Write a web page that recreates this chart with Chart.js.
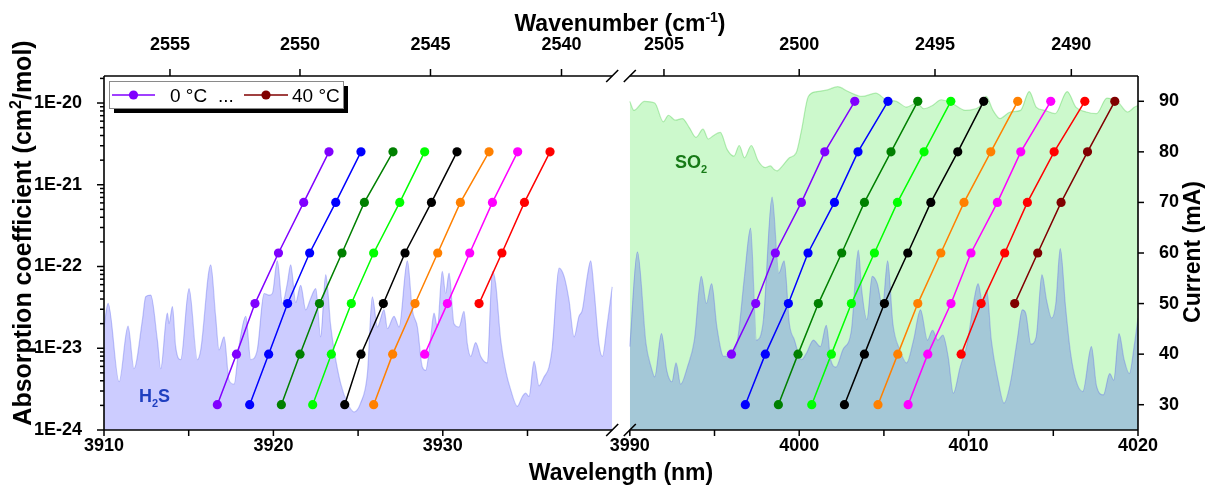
<!DOCTYPE html>
<html>
<head>
<meta charset="utf-8">
<script src="https://cdn.jsdelivr.net/npm/chart.js@4.4.1/dist/chart.umd.min.js"></script>
<style>
  html, body { margin: 0; padding: 0; background: #fff; }
  #wrap { width: 1209px; height: 490px; }
</style>
</head>
<body>
<div id="wrap"><canvas id="tuning" width="1209" height="490"></canvas></div>
<script>
// laser temperatures (deg C) and the colour used for each
const temperatures = [0, 5, 10, 15, 20, 25, 30, 35, 40];
const tempColors = ['#8000ff', '#0000ff', '#008000', '#00ff00', '#000000', '#ff8000', '#ff00ff', '#ff0000', '#800000'];

// injection current (mA)
const currents = [30, 40, 50, 60, 70, 80, 90];

// emission wavelength (nm) of the H2S laser, one row per temperature
const h2sLaserNm = [
  [3916.69, 3917.82, 3918.91, 3920.30, 3921.79, 3923.28, null],
  [3918.60, 3919.72, 3920.84, 3922.14, 3923.68, 3925.17, null],
  [3920.47, 3921.57, 3922.72, 3924.05, 3925.37, 3927.06, null],
  [3922.32, 3923.42, 3924.60, 3925.92, 3927.46, 3928.93, null],
  [3924.21, 3925.17, 3926.49, 3927.77, 3929.33, 3930.84, null],
  [3925.92, 3927.04, 3928.36, 3929.70, 3931.04, 3932.73, null],
  [null, 3928.93, 3930.27, 3931.59, 3932.93, 3934.42, null],
  [null, null, 3932.14, 3933.49, 3934.82, 3936.33, null],
  null
];

// emission wavelength (nm) of the SO2 laser, one row per temperature
const so2LaserNm = [
  [null, 3996.00, 3997.43, 3998.59, 4000.13, 4001.51, 4003.28],
  [3996.82, 3998.00, 3999.36, 4000.52, 4002.08, 4003.47, 4005.24],
  [3998.77, 3999.93, 4001.13, 4002.51, 4003.85, 4005.42, 4007.00],
  [4000.74, 4001.90, 4003.08, 4004.44, 4005.80, 4007.37, 4008.95],
  [4002.67, 4003.85, 4005.03, 4006.41, 4007.77, 4009.36, 4010.89],
  [4004.65, 4005.82, 4007.00, 4008.36, 4009.73, 4011.31, 4012.90],
  [4006.43, 4007.59, 4008.96, 4010.14, 4011.70, 4013.08, 4014.85],
  [null, 4009.56, 4010.74, 4012.13, 4013.47, 4015.05, 4016.86],
  [null, null, 4012.72, 4014.08, 4015.46, 4017.02, 4018.63]
];

// H2S absorption spectrum, 3910-3940 nm: wavelength and log10(cm2/mol)
const h2sNmA = [3910.00, 3910.24, 3910.89, 3911.42, 3911.77, 3912.27, 3912.46, 3912.76, 3913.15, 3913.35,
  3913.74, 3913.84, 3914.04, 3914.23, 3914.53, 3915.02, 3915.51, 3915.71, 3916.30, 3916.59,
  3916.79, 3917.09, 3917.38, 3917.68, 3917.97, 3918.37, 3918.66, 3919.05, 3919.45, 3919.74,
  3919.94, 3920.23, 3920.53, 3920.82, 3921.02, 3921.32, 3921.61, 3921.91, 3922.20, 3922.50,
  3922.79, 3923.09, 3923.38, 3923.58, 3923.97, 3924.37, 3924.76, 3925.15, 3925.55, 3925.84,
  3926.14, 3926.53, 3926.73, 3927.12, 3927.42, 3927.91, 3928.20, 3928.50, 3928.79, 3928.99,
  3929.29, 3929.48, 3929.68, 3929.97, 3930.17, 3930.37, 3930.66, 3930.96, 3931.25, 3931.45,
  3931.65, 3931.94, 3932.24, 3932.63, 3932.93, 3933.12, 3933.42, 3933.71, 3934.01, 3934.40,
  3934.70, 3934.89, 3935.09, 3935.39, 3935.68, 3935.98, 3936.27, 3936.47, 3936.86, 3937.16,
  3937.45, 3937.75, 3938.04, 3938.24, 3938.53, 3938.73, 3938.93, 3939.22, 3939.42, 3939.71,
  3940.00];
const h2sLogA = [-22.74, -22.45, -23.41, -22.73, -23.25, -22.65, -22.37, -22.35, -22.90, -23.25,
  -22.57, -22.70, -22.49, -22.98, -23.14, -22.27, -23.14, -23.02, -21.98, -22.61,
  -23.02, -22.86, -23.39, -23.44, -22.98, -22.61, -23.14, -23.02, -22.33, -22.35,
  -22.33, -21.93, -22.45, -22.21, -21.98, -22.44, -22.23, -22.53, -22.39, -22.27,
  -22.86, -22.10, -22.72, -23.02, -23.43, -23.67, -23.78, -23.67, -23.31, -22.37,
  -22.74, -22.53, -22.76, -22.61, -22.74, -21.93, -22.53, -22.74, -23.23, -23.27,
  -22.86, -22.57, -22.74, -22.06, -22.33, -22.08, -22.70, -22.74, -22.55, -22.95,
  -23.10, -22.93, -23.10, -23.18, -22.06, -22.21, -22.90, -23.27, -23.51, -23.71,
  -23.59, -23.55, -23.59, -23.16, -23.46, -23.35, -23.23, -22.98, -22.02, -22.12,
  -22.41, -22.86, -22.61, -22.53, -22.12, -21.93, -22.29, -22.95, -23.10, -22.70,
  -22.25];

// H2S absorption spectrum, 3990-4020 nm
const h2sNmB = [3990.00, 3990.45, 3990.96, 3991.26, 3991.47, 3991.87, 3992.18, 3992.49, 3992.73, 3993.00,
  3993.40, 3993.81, 3994.22, 3994.52, 3994.83, 3995.14, 3995.54, 3995.95, 3996.36, 3996.77,
  3997.13, 3997.48, 3997.89, 3998.40, 3998.80, 3999.11, 3999.42, 3999.72, 4000.13, 4000.43,
  4000.84, 4001.25, 4001.60, 4001.86, 4002.17, 4002.57, 4003.08, 4003.49, 4003.69, 4004.00,
  4004.31, 4004.61, 4004.92, 4005.22, 4005.53, 4005.94, 4006.34, 4006.75, 4007.16, 4007.57,
  4007.87, 4008.18, 4008.48, 4008.79, 4009.10, 4009.50, 4009.91, 4010.32, 4010.56, 4010.83,
  4011.07, 4011.34, 4011.74, 4012.09, 4012.46, 4012.87, 4013.17, 4013.37, 4013.68, 4013.99,
  4014.33, 4014.60, 4014.90, 4015.15, 4015.41, 4015.72, 4016.02, 4016.33, 4016.74, 4017.25,
  4017.55, 4017.96, 4018.33, 4018.57, 4018.88, 4019.18, 4019.49, 4019.79, 4020.00];
const h2sLogB = [-22.98, -21.82, -22.95, -23.23, -23.35, -22.82, -23.27, -23.41, -23.18, -23.44,
  -23.23, -22.90, -22.12, -22.45, -22.21, -22.74, -23.10, -23.08, -22.90, -22.12,
  -21.53, -22.90, -22.65, -21.15, -22.08, -21.93, -22.70, -22.90, -23.14, -23.06,
  -22.90, -22.98, -22.72, -23.14, -23.23, -23.02, -22.78, -21.80, -22.29, -22.65,
  -22.12, -22.21, -22.49, -21.93, -22.70, -23.02, -23.18, -22.90, -22.53, -22.90,
  -22.78, -22.90, -22.84, -23.10, -23.55, -23.23, -22.95, -22.41, -22.21, -22.45,
  -22.29, -22.90, -23.39, -23.67, -23.43, -22.90, -22.53, -22.57, -22.95, -22.86,
  -22.10, -22.41, -22.63, -22.45, -21.78, -22.49, -23.06, -23.39, -23.53, -22.98,
  -23.46, -23.57, -23.31, -23.39, -22.82, -23.14, -23.31, -22.95, -22.63];

// SO2 absorption spectrum, 3990-4020 nm
const so2Nm = [3990.00, 3990.24, 3990.86, 3991.47, 3991.98, 3992.28, 3992.69, 3993.10, 3993.51, 3993.91,
  3994.32, 3994.63, 3994.93, 3995.34, 3995.75, 3996.15, 3996.46, 3996.77, 3997.17, 3997.58,
  3997.99, 3998.30, 3998.50, 3998.70, 3999.01, 3999.42, 3999.82, 4000.13, 4000.54, 4001.05,
  4001.66, 4002.27, 4002.89, 4003.70, 4004.52, 4005.13, 4005.74, 4006.34, 4006.95, 4007.36,
  4007.87, 4008.38, 4008.99, 4009.81, 4010.62, 4011.03, 4011.44, 4011.85, 4012.46, 4013.07,
  4013.58, 4013.99, 4014.50, 4015.11, 4015.82, 4016.33, 4016.94, 4017.55, 4018.17, 4018.78,
  4019.39, 4019.80, 4020.00];
const so2Log = [-19.98, -20.09, -19.98, -20.00, -20.23, -20.15, -20.21, -20.19, -20.30, -20.42,
  -20.32, -20.44, -20.40, -20.36, -20.57, -20.65, -20.52, -20.67, -20.52, -20.71,
  -20.79, -20.77, -20.81, -20.83, -20.77, -20.67, -20.61, -20.34, -19.92, -19.86,
  -19.84, -19.80, -19.86, -19.92, -19.88, -19.96, -19.98, -20.05, -20.00, -20.07,
  -20.03, -19.96, -20.00, -20.09, -20.05, -19.92, -20.09, -20.19, -20.11, -20.09,
  -19.86, -20.05, -20.09, -20.13, -19.86, -20.05, -20.11, -20.13, -19.94, -19.98,
  -20.11, -20.05, -20.03];

// axis ticks
const wavelengthTicks = [3910, 3915, 3920, 3925, 3930, 3935, 3990, 3995, 4000, 4005, 4010, 4015, 4020];
const wavelengthLabels = [3910, 3920, 3930, 3990, 4000, 4010, 4020];
const wavenumberTicks = [2555, 2550, 2545, 2540, 2505, 2500, 2495, 2490];
const currentTicks = [30, 40, 50, 60, 70, 80, 90];
const absDecades = [-24, -23, -22, -21, -20];

// broken x axis: 3940 nm jumps to 3990 nm
const BREAK_FROM = 3940, BREAK_TO = 3990, GAP = 1.04;
const xPos = nm => nm >= BREAK_TO ? nm - BREAK_TO + BREAK_FROM + GAP : nm;
const nmAt = p => p > BREAK_FROM + GAP / 2 ? p - BREAK_FROM - GAP + BREAK_TO : p;

const FONT = "'Liberation Sans', Arial, sans-serif";
Chart.defaults.font.family = FONT;
Chart.defaults.color = '#000';

const spectrum = (nm, logs) => nm.map((w, i) => ({ x: xPos(w), y: Math.pow(10, logs[i]) }));
const tuning = row => row.map((w, i) => w == null ? null : { x: xPos(w), y: currents[i] }).filter(Boolean);

const datasets = [];
temperatures.forEach((t, i) => {
  [h2sLaserNm[i], so2LaserNm[i]].forEach(row => {
    if (!row) return;
    datasets.push({
      label: t + ' °C', data: tuning(row), yAxisID: 'y1',
      borderColor: tempColors[i], backgroundColor: tempColors[i],
      borderWidth: 1.5, pointRadius: 4.6, pointBorderWidth: 0, fill: false
    });
  });
});
const specStyle = { pointRadius: 0, borderWidth: 1.2, fill: 'start', yAxisID: 'y', cubicInterpolationMode: 'monotone' };
datasets.push({ ...specStyle, label: 'H2S', data: spectrum(h2sNmA, h2sLogA), borderColor: 'rgba(90,100,235,0.35)', backgroundColor: 'rgba(0,0,255,0.2)' });
datasets.push({ ...specStyle, label: 'H2S', data: spectrum(h2sNmB, h2sLogB), borderColor: 'rgba(90,100,235,0.35)', backgroundColor: 'rgba(0,0,255,0.2)' });
datasets.push({ ...specStyle, label: 'SO2', data: spectrum(so2Nm, so2Log), borderColor: 'rgba(60,200,60,0.35)', backgroundColor: 'rgba(0,225,0,0.2)' });

// text with super/subscripts: parts = [[text, 'n'|'sup'|'sub'], ...]
function richText(ctx, parts, x, y, size, weight, align) {
  const small = Math.round(size * 0.62);
  const widths = parts.map(([t, k]) => {
    ctx.font = `${weight} ${k === 'n' ? size : small}px ${FONT}`;
    return ctx.measureText(t).width;
  });
  const total = widths.reduce((a, b) => a + b, 0);
  let cx = align === 'center' ? x - total / 2 : x;
  ctx.textAlign = 'left';
  ctx.textBaseline = 'alphabetic';
  parts.forEach(([t, k], i) => {
    ctx.font = `${weight} ${k === 'n' ? size : small}px ${FONT}`;
    const dy = k === 'sup' ? -size * 0.4 : k === 'sub' ? size * 0.25 : 0;
    ctx.fillText(t, cx, y + dy);
    cx += widths[i];
  });
}

function line(ctx, x1, y1, x2, y2) {
  ctx.beginPath(); ctx.moveTo(x1, y1); ctx.lineTo(x2, y2); ctx.stroke();
}

const decor = {
  id: 'decor',
  afterDatasetsDraw(chart) {
    const { ctx, chartArea: { left, right, top, bottom } } = chart;
    const { x, x2, y, y1 } = chart.scales;
    const bL = x.getPixelForValue(BREAK_FROM), bR = x.getPixelForValue(xPos(BREAK_TO));
    ctx.save();
    ctx.strokeStyle = '#000';
    ctx.lineWidth = 1.6;
    // frame with the break
    line(ctx, left, top, bL, top); line(ctx, bR, top, right, top);
    line(ctx, left, bottom, bL, bottom); line(ctx, bR, bottom, right, bottom);
    line(ctx, left, top, left, bottom); line(ctx, right, top, right, bottom);
    [bL, bR].forEach(bx => [top, bottom].forEach(by => line(ctx, bx - 6, by + 6, bx + 6, by - 6)));
    // tick marks
    ctx.lineWidth = 1.5;
    x.ticks.forEach(t => { const p = x.getPixelForValue(t.value); line(ctx, p, bottom, p, bottom + 6); });
    x2.ticks.forEach(t => { const p = x2.getPixelForValue(t.value); line(ctx, p, top, p, top - 7); });
    y.ticks.forEach(t => { const p = y.getPixelForValue(t.value); line(ctx, left - (t.major ? 7 : 4), p, left, p); });
    y1.ticks.forEach(t => { const p = y1.getPixelForValue(t.value); line(ctx, right, p, right + 6, p); });
    ctx.restore();
  },
  afterDraw(chart) {
    const { ctx } = chart;
    ctx.save();
    ctx.fillStyle = '#000';
    // axis titles
    richText(ctx, [['Wavenumber (cm', 'n'], ['-1', 'sup'], [')', 'n']], 620, 31, 23, 'bold', 'center');
    richText(ctx, [['Wavelength (nm)', 'n']], 621, 480, 23, 'bold', 'center');
    ctx.save(); ctx.translate(31, 233); ctx.rotate(-Math.PI / 2);
    richText(ctx, [['Absorption coefficient (cm', 'n'], ['2', 'sup'], ['/mol)', 'n']], 0, 0, 25, 'bold', 'center');
    ctx.restore();
    ctx.save(); ctx.translate(1200, 252); ctx.rotate(-Math.PI / 2);
    richText(ctx, [['Current (mA)', 'n']], 0, 0, 23, 'bold', 'center');
    ctx.restore();
    // gas labels
    ctx.fillStyle = '#1f3fc0';
    richText(ctx, [['H', 'n'], ['2', 'sub'], ['S', 'n']], 139, 402, 18, 'bold', 'left');
    ctx.fillStyle = '#177a17';
    richText(ctx, [['SO', 'n'], ['2', 'sub']], 675, 168, 18, 'bold', 'left');
    // legend with drop shadow
    ctx.fillStyle = '#000';
    ctx.fillRect(114, 86, 234, 27);
    ctx.fillStyle = '#fff';
    ctx.fillRect(109.5, 81.5, 234, 27);
    ctx.strokeStyle = '#8a8a8a'; ctx.lineWidth = 1;
    ctx.strokeRect(109.5, 81.5, 234, 27);
    const legendItem = (x0, x1, color) => {
      ctx.strokeStyle = color; ctx.fillStyle = color; ctx.lineWidth = 1.5;
      line(ctx, x0, 95, x1, 95);
      ctx.beginPath(); ctx.arc((x0 + x1) / 2, 95, 4.6, 0, Math.PI * 2); ctx.fill();
    };
    legendItem(112, 155, tempColors[0]);
    legendItem(244, 288, tempColors[tempColors.length - 1]);
    ctx.fillStyle = '#000';
    ctx.font = `19px ${FONT}`;
    ctx.textAlign = 'left'; ctx.textBaseline = 'alphabetic';
    ctx.fillText(temperatures[0] + ' °C', 170, 102);
    ctx.fillText('...', 218, 102);
    ctx.fillText(temperatures[temperatures.length - 1] + ' °C', 292, 102);
    ctx.restore();
  }
};

const tickFont = { size: 18, weight: 'bold' };
const logMax = 2.14e-20;

new Chart(document.getElementById('tuning'), {
  type: 'line',
  data: { datasets },
  options: {
    responsive: false,
    animation: false,
    events: [],
    layout: { padding: 0 },
    plugins: { legend: { display: false }, tooltip: { enabled: false } },
    scales: {
      x: {
        type: 'linear', position: 'bottom', min: 3910, max: xPos(4020),
        grid: { display: false }, border: { display: false },
        afterBuildTicks: s => { s.ticks = wavelengthTicks.map(v => ({ value: xPos(v) })); },
        afterFit: s => { s.height = 60; },
        ticks: {
          font: tickFont, padding: -3, maxRotation: 0, autoSkip: false,
          callback: v => { const nm = Math.round(nmAt(v)); return wavelengthLabels.includes(nm) ? String(nm) : ''; }
        }
      },
      x2: {
        type: 'linear', position: 'top', min: 3910, max: xPos(4020),
        grid: { display: false }, border: { display: false },
        afterBuildTicks: s => { s.ticks = wavenumberTicks.map(wn => ({ value: xPos(1e7 / wn) })); },
        afterFit: s => { s.height = 76; },
        ticks: { font: tickFont, padding: 12, maxRotation: 0, autoSkip: false, callback: (v, i) => String(wavenumberTicks[i]) }
      },
      y: {
        type: 'logarithmic', position: 'left', min: 1e-24, max: logMax,
        grid: { display: false }, border: { display: false },
        afterBuildTicks: s => {
          const t = [];
          absDecades.forEach(d => { for (let m = 1; m <= 9; m++) { const v = m * Math.pow(10, d); if (v <= logMax) t.push({ value: v, major: m === 1, label: m === 1 ? '1E' + d : '' }); } });
          s.ticks = t;
        },
        afterFit: s => { s.width = 104; },
        ticks: { font: tickFont, padding: 14, autoSkip: false, callback: (v, i, ticks) => ticks[i].label }
      },
      y1: {
        type: 'linear', position: 'right', min: 25, max: 95,
        grid: { display: false }, border: { display: false },
        afterBuildTicks: s => { s.ticks = currentTicks.map(v => ({ value: v })); },
        afterFit: s => { s.width = 71; },
        ticks: { font: tickFont, padding: 13, autoSkip: false }
      }
    }
  },
  plugins: [decor]
});
</script>
</body>
</html>
